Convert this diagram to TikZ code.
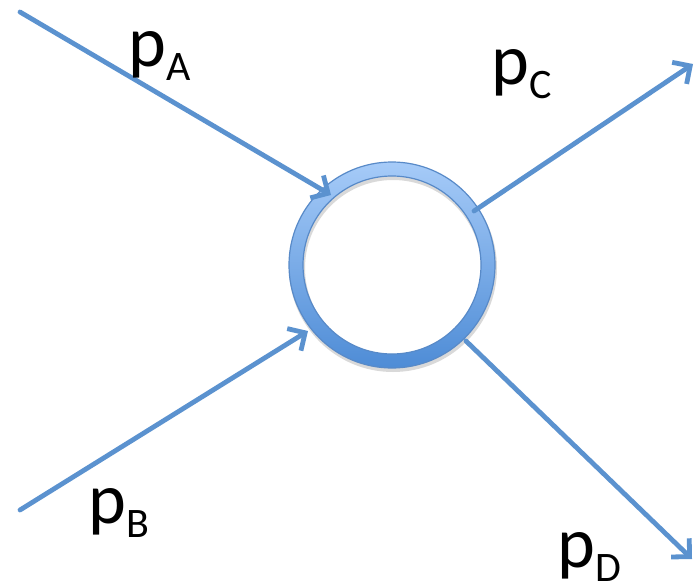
\documentclass[tikz,border=0pt]{standalone}
\usepackage{fontspec}
\setmainfont{Carlito}
\usetikzlibrary{arrows.meta}
\definecolor{lineblue}{RGB}{91,146,207}
\definecolor{ringtop}{RGB}{166,203,248}
\definecolor{ringbot}{RGB}{78,140,214}
\definecolor{ringedge}{RGB}{88,138,200}
\tikzset{
  momentum/.style={draw=lineblue, line width=4.8pt, line cap=round,
    -{Straight Barb[length=13pt, width=26pt, line width=4.8pt]}},
  lbl/.style={anchor=base west, inner sep=0pt, text=black},
}
\newcommand{\mom}[1]{{\fontsize{72}{72}\selectfont p}{\fontsize{42}{42}\selectfont\raisebox{-14pt}{#1}}}
\begin{document}
\begin{tikzpicture}[x=1pt,y=-1pt]
\useasboundingbox (0,0) rectangle (695,588);
% ring
\coordinate (v) at (392,265);
\fill[black!15, even odd rule] (393,268) circle (104) (393,268) circle (88);
\shade[top color=ringtop, bottom color=ringbot, even odd rule]
  (v) circle (103) (v) circle (89);
\draw[ringedge, line width=1.2pt] (v) circle (103) (v) circle (89);
% coordinates
\coordinate (a0) at (20,12);
\coordinate (a1) at (331,195);
\coordinate (b0) at (20,510);
\coordinate (b1) at (308,331);
\coordinate (c0) at (474,211);
\coordinate (c1) at (693,64);
\coordinate (d0) at (466,341);
\coordinate (d1) at (692,559);
\draw[momentum] (a0) -- (a1);
\draw[momentum] (b0) -- (b1);
\draw[momentum] (c0) -- (c1);
\draw[momentum] (d0) -- (d1);
% labels
\node[lbl] (la) at (128,67) {\mom{A}};
\node[lbl] (lc) at (491,85) {\mom{C}};
\node[lbl] (lb) at (88,523) {\mom{B}};
\node[lbl] (ld) at (557,567) {\mom{D}};
\end{tikzpicture}
\end{document}
